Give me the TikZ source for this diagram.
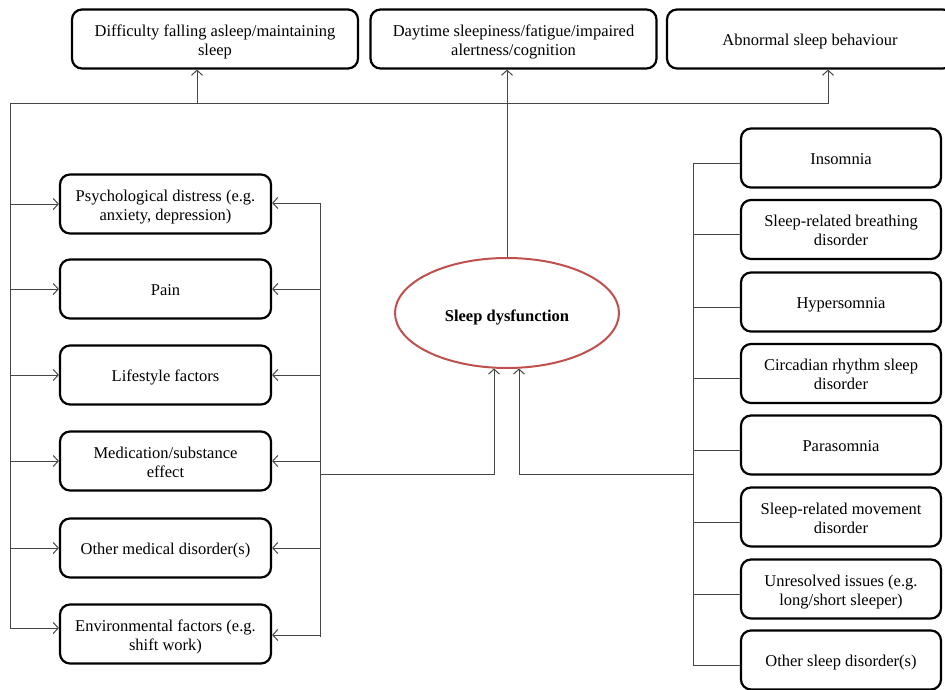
\documentclass[tikz,border=0pt]{standalone}
\usepackage{fontspec}
\setmainfont{Liberation Serif}
\usetikzlibrary{arrows.meta,shapes.geometric}
\definecolor{ellred}{RGB}{192,80,77}
\definecolor{linegray}{RGB}{70,70,70}
\newcommand{\tl}[2][3pt]{\raisebox{-#1}[\height][\depth]{\begin{tabular}{@{}c@{}}#2\end{tabular}}}
\begin{document}
\begin{tikzpicture}[x=1pt,y=-1pt,
  box/.style={draw=black, line width=2.2pt, rounded corners=10pt, align=center, inner sep=0pt,
              minimum height=59pt, font=\fontsize{16.5}{19}\selectfont},
  topbox/.style={box, minimum width=286pt},
  lbox/.style={box, minimum width=211pt},
  rbox/.style={box, minimum width=200pt},
  conn/.style={draw=linegray, line width=1pt},
  arr/.style={conn, -{Straight Barb[length=5pt,width=11pt]}}]
\useasboundingbox (0,0) rectangle (945,690);
\clip (0,0) rectangle (945,690);

% top boxes
\node[topbox] (T1) at (215,39) {\tl{Difficulty falling asleep/maintaining\\sleep}};
\node[topbox] (T2) at (513.5,39) {\tl{Daytime sleepiness/fatigue/impaired\\alertness/cognition}};
\node[topbox] (T3) at (810,39) {\tl{Abnormal sleep behaviour}};

% left boxes
\node[lbox] (L1) at (165.5,204) {\tl{Psychological distress (e.g.\\anxiety, depression)}};
\node[lbox] (L2) at (165.5,289) {\tl{Pain}};
\node[lbox] (L3) at (165.5,375) {\tl{Lifestyle factors}};
\node[lbox] (L4) at (165.5,461) {\tl{Medication/substance\\effect}};
\node[lbox] (L5) at (165.5,548) {\tl{Other medical disorder(s)}};
\node[lbox] (L6) at (165.5,634) {\tl{Environmental factors (e.g.\\shift work)}};

% right boxes
\node[rbox] (R1) at (841,158) {\tl{Insomnia}};
\node[rbox] (R2) at (841,229.5) {\tl{Sleep-related breathing\\disorder}};
\node[rbox] (R3) at (841,302) {\tl{Hypersomnia}};
\node[rbox] (R4) at (841,373.5) {\tl{Circadian rhythm sleep\\disorder}};
\node[rbox] (R5) at (841,445) {\tl{Parasomnia}};
\node[rbox] (R6) at (841,517) {\tl{Sleep-related movement\\disorder}};
\node[rbox] (R7) at (841,589) {\tl{Unresolved issues (e.g.\\long/short sleeper)}};
\node[rbox] (R8) at (841,660) {\tl{Other sleep disorder(s)}};

% central ellipse
\node[ellipse, draw=ellred, line width=2pt, minimum width=224pt, minimum height=110pt, inner sep=0pt,
      font=\fontsize{16.5}{19}\selectfont\bfseries] (S) at (507,313) {\tl[5pt]{Sleep dysfunction}};

% coordinates
\coordinate (lbtop) at (10,104);
\coordinate (lbbot) at (10,628);
\coordinate (hr) at (828,104);
\coordinate (j1) at (197,104);
\coordinate (mtop) at (320,203);
\coordinate (mbot) at (320,637);
\coordinate (mj) at (320,474);
\coordinate (rtop) at (693,163);
\coordinate (rbot) at (693,665);
\coordinate (rj) at (693,474);

% top bus
\draw[conn] (lbbot) -- (lbtop) -- (hr);
\draw[arr] (j1) -- (j1 |- T1.south);
\draw[arr] (hr) -- (hr |- T3.south);
\draw[arr] (S.north) -- (S.north |- T2.south);

% left bus arrows
\foreach \n in {L1,L2,L3,L4,L5}
  \draw[arr] (\n.west -| lbtop) -- (\n.west);
\draw[arr] (lbbot) -- (lbbot -| L6.west);

% middle bus
\draw[conn] (mtop) -- (mbot);
\draw[arr] (mtop) -- (mtop -| L1.east);
\foreach \n in {L2,L3,L4,L5}
  \draw[arr] (\n.east -| mtop) -- (\n.east);
\draw[arr] ([yshift=-1pt]L6.east -| mtop) -- ([yshift=-1pt]L6.east);
\draw[arr] (mj) -| ([xshift=-13pt,yshift=0.5pt]S.south);

% right bus
\draw[conn] (rtop) -- (rbot);
\foreach \n in {R1,R2,R3,R4,R5,R6,R7,R8}
  \draw[conn] ([yshift=-5pt]\n.west -| rtop) -- ([yshift=-5pt]\n.west);
\draw[arr] (rj) -| ([xshift=12pt,yshift=0.5pt]S.south);
\end{tikzpicture}
\end{document}
